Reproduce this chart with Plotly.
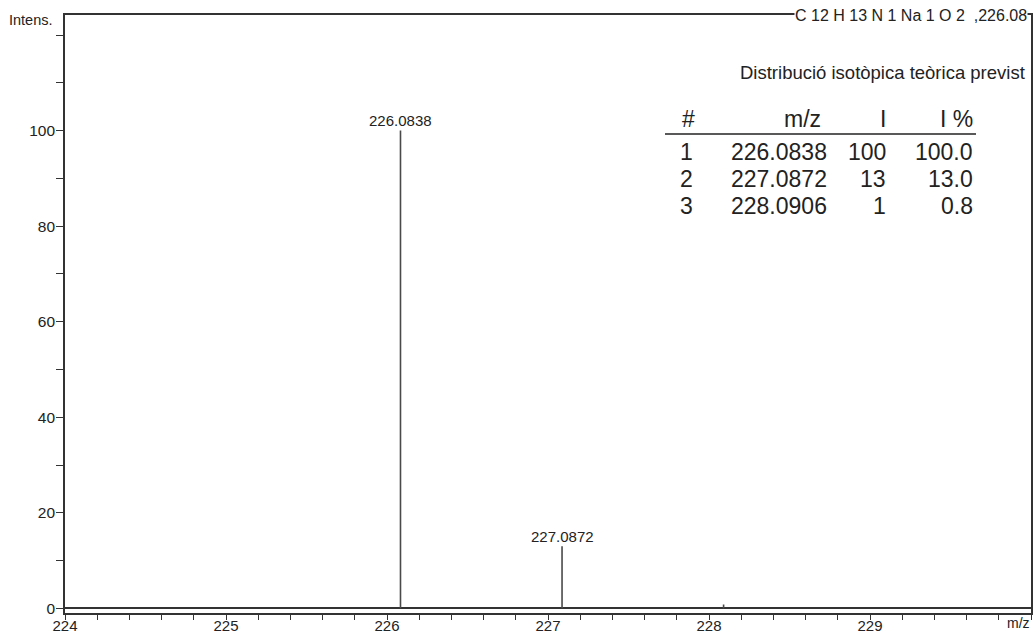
import plotly.graph_objects as go

# Theoretical isotope pattern for C12H13NNaO2
peak_mz = [226.0838, 227.0872, 228.0906]
peak_rel = [100.0, 13.0, 0.8]
peak_labels = ["226.0838", "227.0872", None]

# Table of the predicted distribution
table_idx = ["1", "2", "3"]
table_mz = ["226.0838", "227.0872", "228.0906"]
table_i = ["100", "13", "1"]
table_ipct = ["100.0", "13.0", "0.8"]

x_ticks = [224, 225, 226, 227, 228, 229]
y_ticks = [0, 20, 40, 60, 80, 100]
y_minor = [10, 30, 50, 70, 90, 110, 120]

FONT = "Liberation Sans, Arial, sans-serif"
INK = "#222222"

W, H = 1035, 634
L, R, T, B = 65, 4, 15, 21
PW, PH = W - L - R, H - T - B


def px(x):
    return (x - L) / PW


def py(y):
    return (H - B - y) / PH


fig = go.Figure()

# stick spectrum
xs, ys = [], []
for m, v in zip(peak_mz, peak_rel):
    xs += [m, m, None]
    ys += [0, v, None]
fig.add_trace(go.Scatter(x=xs, y=ys, mode="lines",
                         line=dict(color="#4a4a4a", width=1.6),
                         hoverinfo="skip", showlegend=False))

annotations = []
for m, v, lab in zip(peak_mz, peak_rel, peak_labels):
    if lab:
        annotations.append(dict(x=m, y=v, xref="x", yref="y", text=lab,
                                showarrow=False, yanchor="middle", yshift=10,
                                font=dict(family=FONT, size=15, color=INK)))

# headings and axis captions
annotations += [
    dict(x=px(1028), y=py(15), xref="paper", yref="paper",
         text="C 12 H 13 N 1 Na 1 O 2  ,226.08", showarrow=False,
         xanchor="right", yanchor="middle", bgcolor="white", borderpad=0,
         font=dict(family=FONT, size=16, color=INK)),
    dict(x=px(1027), y=py(72), xref="paper", yref="paper",
         text="Distribució isotòpica teòrica previst", showarrow=False,
         xanchor="right", yanchor="middle",
         font=dict(family=FONT, size=18.5, color=INK)),
    dict(x=px(55), y=py(20), xref="paper", yref="paper", text="Intens.",
         showarrow=False, xanchor="right", yanchor="middle",
         font=dict(family=FONT, size=14.5, color=INK)),
    dict(x=px(1031), y=py(623), xref="paper", yref="paper", text="m/z",
         showarrow=False, xanchor="right", yanchor="middle", borderpad=0,
         font=dict(family=FONT, size=14, color=INK)),
]

# table
col_right = [695, 829, 888, 975]
head_right = [697, 823, 888, 975]
headers = ["#", "m/z", "I", "I %"]
head_y = 119
row_y = [152, 179, 206]
for xr, h in zip(head_right, headers):
    annotations.append(dict(x=px(xr), y=py(head_y), xref="paper", yref="paper",
                            text=h, showarrow=False, xanchor="right",
                            yanchor="middle",
                            font=dict(family=FONT, size=23, color=INK)))
for i, row in enumerate(zip(table_idx, table_mz, table_i, table_ipct)):
    for xr, cell in zip(col_right, row):
        annotations.append(dict(x=px(xr), y=py(row_y[i]), xref="paper",
                                yref="paper", text=cell, showarrow=False,
                                xanchor="right", yanchor="middle",
                                font=dict(family=FONT, size=23, color=INK)))

shapes = [dict(type="line", xref="paper", yref="paper",
               x0=px(665), x1=px(976), y0=py(134), y1=py(134),
               line=dict(color=INK, width=1.6))]

fig.update_layout(
    width=W, height=H,
    margin=dict(l=L, r=R, t=T, b=B, autoexpand=False),
    paper_bgcolor="white", plot_bgcolor="white",
    showlegend=False,
    annotations=annotations,
    shapes=shapes,
    font=dict(family=FONT, size=15, color=INK),
)

fig.update_xaxes(
    automargin=False,
    range=[224, 230], tickvals=x_ticks, ticktext=[str(v) for v in x_ticks],
    ticks="outside", ticklen=5, tickwidth=1.3, tickcolor="#333",
    showline=True, linecolor="#333", linewidth=1.6, mirror=True,
    showgrid=False, zeroline=False,
    minor=dict(dtick=0.2, tick0=224, ticks="outside", ticklen=5,
               tickwidth=1.3, tickcolor="#333", showgrid=False),
    tickfont=dict(family=FONT, size=15, color=INK),
    ticklabelstandoff=-7,
)
fig.update_yaxes(
    automargin=False,
    range=[-0.98, 124.2], tickvals=y_ticks, ticktext=[str(v) for v in y_ticks],
    ticks="outside", ticklen=7, tickwidth=1.3, tickcolor="#333",
    showline=True, linecolor="#333", linewidth=1.6, mirror=True,
    showgrid=False, zeroline=True, zerolinecolor="#333", zerolinewidth=1.6,
    minor=dict(tickvals=y_minor, ticks="outside", ticklen=7, tickwidth=1.3,
               tickcolor="#333", showgrid=False),
    tickfont=dict(family=FONT, size=15.5, color=INK),
    ticklabelstandoff=-2,
)

fig.write_html("out.html")
